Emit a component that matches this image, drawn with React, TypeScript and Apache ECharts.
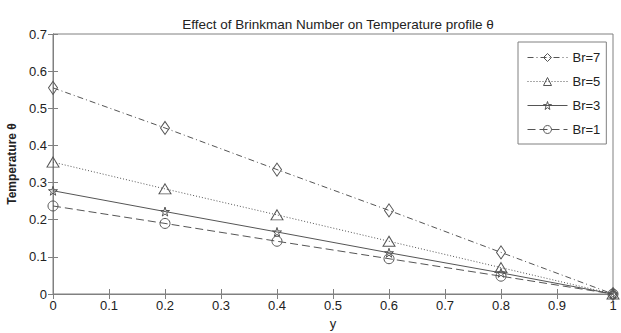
import React, { useEffect, useRef } from "react";
import * as echarts from "echarts";

const yPositions = [0, 0.2, 0.4, 0.6, 0.8, 1];
const br7 = [0.555, 0.447, 0.335, 0.225, 0.112, 0];
const br5 = [0.355, 0.283, 0.213, 0.142, 0.071, 0];
const br3 = [0.278, 0.222, 0.167, 0.111, 0.057, 0];
const br1 = [0.237, 0.19, 0.142, 0.095, 0.048, 0];
const seriesNames = ["Br=7", "Br=5", "Br=3", "Br=1"];

const STAR =
  "path://M50,0 L61,35 L98,35 L68,57 L79,91 L50,70 L21,91 L32,57 L2,35 L39,35 Z";

export default function App() {
  const ref = useRef<HTMLDivElement>(null);
  useEffect(() => {
    if (!ref.current) return;
    const chart = echarts.init(ref.current, null, { renderer: "svg" });
    const axisColor = "#808080";
    const font = "Liberation Sans, Arial, sans-serif";
    const lineColor = "#555";
    const clear = "rgba(255,255,255,0)";
    const mk = (vals: number[]) => yPositions.map((x, i) => [x, vals[i]]);
    const base = (name: string, vals: number[], dash: any, symbol: string, size: any) => ({
      name,
      type: "line",
      data: mk(vals),
      symbol,
      symbolSize: size,
      showSymbol: true,
      lineStyle: { color: lineColor, width: 1, type: dash },
      itemStyle: { color: clear, borderColor: lineColor, borderWidth: 1 },
      emphasis: { disabled: true },
      z: 3,
    });
    const legendItem = (name: string, dash: any) => ({
      name,
      itemStyle: { color: clear, borderColor: lineColor, borderWidth: 1 },
      lineStyle: { width: 1, color: lineColor, type: dash },
    });
    chart.setOption({
      animation: false,
      backgroundColor: "#fff",
      title: {
        text: "Effect of Brinkman Number on Temperature profile \u03b8",
        left: 333,
        textAlign: "center",
        top: 12,
        textStyle: { fontSize: 13.5, fontWeight: "normal", fontFamily: font, color: "#222" },
      },
      grid: {
        left: 53,
        right: 8,
        top: 34,
        bottom: 39,
        outerBoundsMode: "none",
        containLabel: false,
        show: true,
        borderColor: axisColor,
        borderWidth: 1,
        backgroundColor: "transparent",
      },
      legend: {
        orient: "vertical",
        left: 518,
        top: 42,
        width: 89,
        padding: [9, 6, 8, 9],
        itemGap: 11,
        itemWidth: 40,
        itemHeight: 10,
        borderColor: axisColor,
        borderWidth: 1,
        backgroundColor: "#fff",
        itemStyle: { color: clear, borderColor: lineColor, borderWidth: 1 },
        lineStyle: { width: 1, color: lineColor },
        textStyle: { fontSize: 13, fontFamily: font, color: "#222" },
        data: [
          legendItem(seriesNames[0], [6, 3, 1, 3]),
          legendItem(seriesNames[1], [1, 2]),
          legendItem(seriesNames[2], "solid"),
          legendItem(seriesNames[3], [8, 4]),
        ],
      },
      xAxis: [
        {
          type: "value",
          min: 0,
          max: 1,
          interval: 0.1,
          name: "y",
          nameLocation: "middle",
          nameGap: 22,
          nameTextStyle: { fontSize: 13, fontFamily: font, color: "#222" },
          axisLine: { lineStyle: { color: axisColor } },
          axisTick: { inside: true, length: 5, lineStyle: { color: axisColor } },
          axisLabel: { fontSize: 13, fontFamily: font, color: "#222", margin: 5, formatter: (v: number) => String(Math.round(v * 10) / 10) },
          splitLine: { show: false },
        },
        {
          type: "value",
          position: "top",
          min: 0,
          max: 1,
          interval: 0.1,
          axisLine: { lineStyle: { color: axisColor } },
          axisTick: { inside: true, length: 5, lineStyle: { color: axisColor } },
          axisLabel: { show: false },
          splitLine: { show: false },
        },
      ],
      yAxis: [
        {
          type: "value",
          min: 0,
          max: 0.7,
          interval: 0.1,
          name: "Temperature \u03b8",
          nameLocation: "middle",
          nameGap: 31,
          nameTextStyle: { fontSize: 12, fontWeight: "bold", fontFamily: font, color: "#222" },
          axisLine: { lineStyle: { color: axisColor } },
          axisTick: { inside: true, length: 5, lineStyle: { color: axisColor } },
          axisLabel: { fontSize: 13, fontFamily: font, color: "#222", margin: 6, formatter: (v: number) => String(Math.round(v * 10) / 10) },
          splitLine: { show: false },
        },
        {
          type: "value",
          position: "right",
          min: 0,
          max: 0.7,
          interval: 0.1,
          axisLine: { lineStyle: { color: axisColor } },
          axisTick: { inside: true, length: 5, lineStyle: { color: axisColor } },
          axisLabel: { show: false },
          splitLine: { show: false },
        },
      ],
      series: [
        base(seriesNames[0], br7, [6, 3, 1, 3], "diamond", [9, 13]),
        base(seriesNames[1], br5, [1, 2], "triangle", [12, 10]),
        base(seriesNames[2], br3, "solid", STAR, 9),
        base(seriesNames[3], br1, [8, 4], "circle", 10),
      ],
    });
    return () => chart.dispose();
  }, []);
  return <div ref={ref} style={{ width: 621, height: 333, position: "absolute", left: 0, top: 0 }} />;
}
